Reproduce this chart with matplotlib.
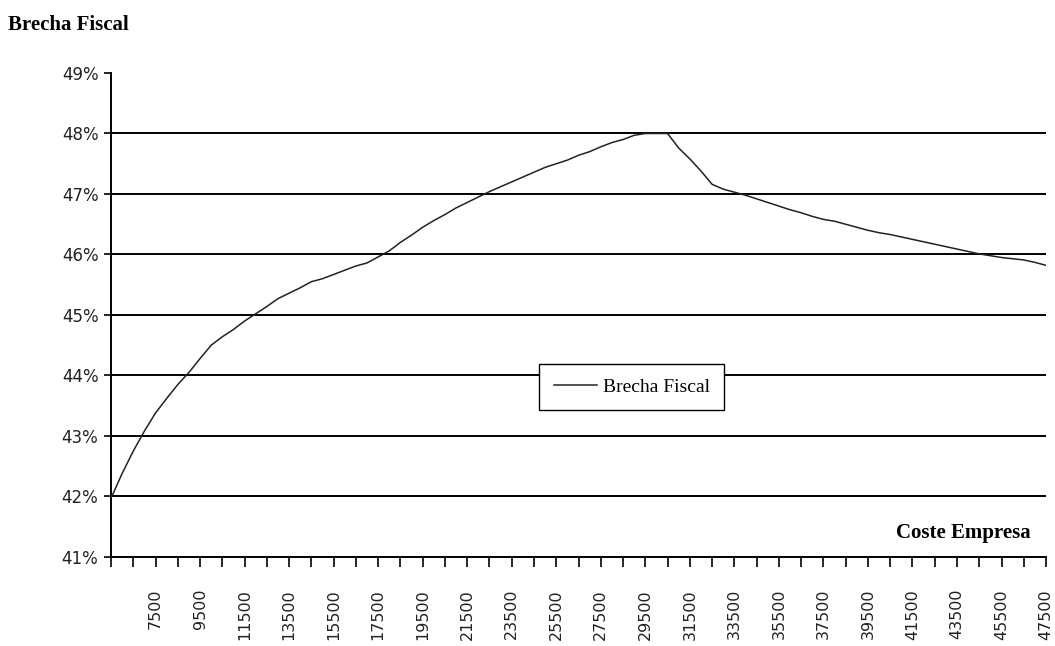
import numpy as np
import matplotlib
matplotlib.use('Agg')
import matplotlib.pyplot as plt
from matplotlib.ticker import FixedLocator, FuncFormatter

# coste empresa (euros), de 5500 a 47500 en pasos de 500
coste = list(range(5500, 48000, 500))

# brecha fiscal en %
brecha = [41.97, 42.38, 42.75, 43.08, 43.38, 43.62, 43.85, 44.05, 44.28, 44.50,
          44.64, 44.76, 44.90, 45.02, 45.14, 45.27, 45.36, 45.45, 45.55, 45.60,
          45.67, 45.74, 45.81, 45.86, 45.96, 46.06, 46.20, 46.32, 46.45, 46.56,
          46.66, 46.77, 46.86, 46.95, 47.04, 47.12, 47.20, 47.28, 47.36, 47.44,
          47.50, 47.56, 47.64, 47.70, 47.78, 47.85, 47.90, 47.97, 48.00, 48.00,
          48.00, 47.76, 47.58, 47.38, 47.16, 47.08, 47.03, 46.98, 46.92, 46.86,
          46.80, 46.74, 46.69, 46.63, 46.58, 46.55, 46.50, 46.45, 46.40, 46.36,
          46.33, 46.29, 46.25, 46.21, 46.17, 46.13, 46.09, 46.05, 46.01, 45.98,
          45.95, 45.93, 45.91, 45.87, 45.82]

etiquetas = list(range(7500, 48000, 2000))

fig = plt.figure(figsize=(10.55, 6.46), dpi=100)
ax = fig.add_axes([0.1052, 0.1378, 0.8863, 0.7492])

pos = np.arange(len(coste))
ax.plot(pos, brecha, color='#222222', lw=1.1, label='Brecha Fiscal', zorder=3)

ax.set_xlim(0, len(coste) - 1)
ax.set_ylim(41, 49)

# lineas horizontales de 42% a 48%
for y in range(42, 49):
    ax.axhline(y, color='black', lw=1.4, zorder=1)

ax.set_yticks(range(41, 50))
ax.yaxis.set_major_formatter(FuncFormatter(lambda v, p: '%d%%' % v))

# marcas cada 1000, etiquetas cada 2000
ax.xaxis.set_major_locator(FixedLocator([coste.index(e) for e in etiquetas]))
ax.xaxis.set_major_formatter(FuncFormatter(lambda v, p: str(coste[int(round(v))])))
ax.xaxis.set_minor_locator(FixedLocator(pos[::2]))

ax.tick_params(axis='y', which='major', length=5, width=1.2, direction='out',
               labelsize=12, pad=4)
ax.tick_params(axis='x', which='major', length=7, width=1.2, direction='out',
               labelsize=11.5, labelrotation=90, pad=16)
ax.tick_params(axis='x', which='minor', length=7, width=1.2, direction='out')
for lbl in ax.get_yticklabels() + ax.get_xticklabels():
    lbl.set_color('#222222')

for s in ['top', 'right']:
    ax.spines[s].set_visible(False)
for s in ['left', 'bottom']:
    ax.spines[s].set_linewidth(1.4)

fig.text(0.0076, 0.961, 'Brecha Fiscal', family='Liberation Serif',
         fontweight='bold', fontsize=15, va='center', ha='left')
ax.text(0.983, 0.05, 'Coste Empresa', family='Liberation Serif',
        fontweight='bold', fontsize=15, transform=ax.transAxes,
        ha='right', va='center')

leg = ax.legend(loc='center', bbox_to_anchor=(0.557, 0.351), fancybox=False,
                framealpha=1, edgecolor='black', handlelength=2.2,
                borderpad=0.75, handletextpad=0.3,
                prop={'family': 'Liberation Serif', 'size': 14})
leg.get_frame().set_linewidth(1.0)
leg.set_zorder(5)

fig.savefig('out.png', dpi=100)
